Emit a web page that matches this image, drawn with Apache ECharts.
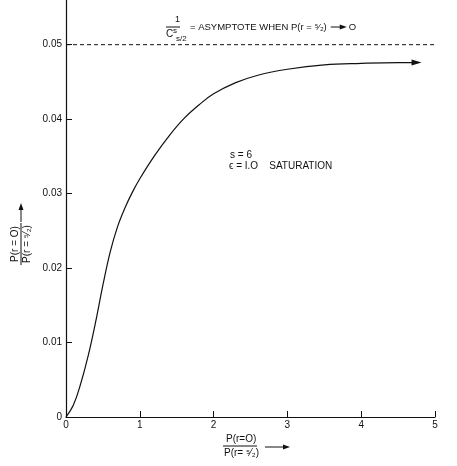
<!DOCTYPE html>
<html><head><meta charset="utf-8">
<script src="https://cdn.jsdelivr.net/npm/echarts@6/dist/echarts.min.js"></script>
<style>html,body{margin:0;padding:0;background:#fff}#c{width:457px;height:466px}</style>
</head><body><div id="c"></div>
<script>
const xValues = [0, 0.1, 0.2, 0.3, 0.4, 0.5, 0.6, 0.7, 0.8, 0.9, 1.0, 1.2, 1.4, 1.6, 1.8, 2.0, 2.3, 2.6, 3.0, 3.5, 4.0, 4.5, 4.75];
const yValues = [0, 0.0016, 0.0045, 0.0082, 0.0127, 0.0177, 0.0222, 0.0256, 0.0281, 0.0302, 0.0320, 0.0351, 0.0378, 0.0401, 0.0419, 0.0434, 0.0449, 0.0459, 0.0467, 0.0473, 0.0475, 0.0476, 0.0476];
const asymptote = 0.05;
const asymptoteX = [0, 5.15];
const yTicks = [0, 0.01, 0.02, 0.03, 0.04, 0.05];
const yTickLabels = ['0', '0.01', '0.02', '0.03', '0.04', '0.05'];

const ink = '#111';
const font = 'Liberation Sans';
const data = xValues.map((x, i) => {
  const d = { value: [x, yValues[i]] };
  if (i === xValues.length - 1) {
    d.symbol = 'triangle'; d.symbolSize = [6, 10]; d.symbolRotate = -90;
    d.itemStyle = { color: ink };
  }
  return d;
});

// measure annotation text to chain pieces
const mctx = document.createElement('canvas').getContext('2d');
function tw(t, f) { mctx.font = f; return mctx.measureText(t).width; }
const annFont = '9.5px ' + font;
const annText = '= ASYMPTOTE WHEN P(r = ⁵⁄₂)';
const annX = 190;
const annEnd = annX + tw(annText, annFont);

const chart = echarts.init(document.getElementById('c'), null, { renderer: 'canvas' });
chart.setOption({
  backgroundColor: '#fff',
  animation: false,
  grid: { left: 66, right: 22, top: 0, bottom: 49 },
  xAxis: {
    type: 'value', min: 0, max: 5, interval: 1,
    axisLine: { lineStyle: { color: ink, width: 1.2 } },
    axisTick: { inside: true, length: 6, lineStyle: { color: ink } },
    axisLabel: { color: ink, fontFamily: font, fontSize: 10, margin: 3 },
    splitLine: { show: false }
  },
  yAxis: {
    type: 'value', min: 0, max: 0.056,
    axisLine: { show: true, lineStyle: { color: ink, width: 1.2 } },
    axisTick: { show: true, inside: true, length: 6, customValues: yTicks, lineStyle: { color: ink } },
    axisLabel: { color: ink, fontFamily: font, fontSize: 10, margin: 4, customValues: yTicks,
      formatter: v => { const i = yTicks.findIndex(t => Math.abs(t - v) < 1e-9); return i >= 0 ? yTickLabels[i] : ''; } },
    splitLine: { show: false }
  },
  series: [{
    type: 'line', data: data, smooth: 0.4, showSymbol: true, symbol: 'none', clip: false,
    lineStyle: { color: ink, width: 1.2 }
  }, {
    type: 'line', data: asymptoteX.map(x => [x, asymptote]), symbol: 'none', clip: false, silent: true,
    lineStyle: { color: ink, type: [4, 3], width: 1 }
  }],
  graphic: [
    // top annotation
    { type: 'text', left: 175, top: 15, style: { text: '1', font: '9px ' + font, fill: ink } },
    { type: 'line', shape: { x1: 166, y1: 27, x2: 180, y2: 27 }, style: { stroke: ink, lineWidth: 1 } },
    { type: 'text', left: 166, top: 29, style: { text: 'C', font: '10px ' + font, fill: ink } },
    { type: 'text', left: 173, top: 27, style: { text: 's', font: '8px ' + font, fill: ink } },
    { type: 'text', left: 176, top: 35, style: { text: 's/2', font: '8px ' + font, fill: ink } },
    { type: 'text', left: annX, top: 22, style: { text: annText, font: annFont, fill: ink } },
    { type: 'line', shape: { x1: annEnd + 4, y1: 27, x2: annEnd + 14, y2: 27 }, style: { stroke: ink, lineWidth: 1 } },
    { type: 'polygon', shape: { points: [[annEnd + 20, 27], [annEnd + 13, 24.5], [annEnd + 13, 29.5]] }, style: { fill: ink } },
    { type: 'text', left: annEnd + 22, top: 22, style: { text: 'O', font: annFont, fill: ink } },
    // parameters
    { type: 'text', left: 230, top: 150, style: { text: 's = 6', font: '10px ' + font, fill: ink } },
    { type: 'text', left: 229, top: 161, style: { text: 'ϵ = I.O    SATURATION', font: '10px ' + font, fill: ink } },
    // x title
    { type: 'text', left: 226, top: 434, style: { text: 'P(r=O)', font: '10px ' + font, fill: ink } },
    { type: 'line', shape: { x1: 223, y1: 446, x2: 257, y2: 446 }, style: { stroke: ink, lineWidth: 1 } },
    { type: 'text', left: 224, top: 448, style: { text: 'P(r= ⁵⁄₂)', font: '10px ' + font, fill: ink } },
    { type: 'line', shape: { x1: 265, y1: 447, x2: 284, y2: 447 }, style: { stroke: ink, lineWidth: 1 } },
    { type: 'polygon', shape: { points: [[290, 447], [283, 444.5], [283, 449.5]] }, style: { fill: ink } },
    // y title (rotated)
    { type: 'group', x: 21, y: 244, rotation: Math.PI / 2, children: [
      { type: 'text', x: 0, y: -6, style: { text: 'P(r = O)', font: '10px ' + font, fill: ink, align: 'center', verticalAlign: 'middle' } },
      { type: 'line', shape: { x1: -21, y1: 0, x2: 21, y2: 0 }, style: { stroke: ink, lineWidth: 1 } },
      { type: 'text', x: 0, y: 6.5, style: { text: 'P(r = ⁵⁄₂)', font: '10px ' + font, fill: ink, align: 'center', verticalAlign: 'middle' } }
    ] },
    { type: 'line', shape: { x1: 21, y1: 222, x2: 21, y2: 208 }, style: { stroke: ink, lineWidth: 1 } },
    { type: 'polygon', shape: { points: [[21, 203], [18.5, 210], [23.5, 210]] }, style: { fill: ink } }
  ]
});
</script></body></html>
